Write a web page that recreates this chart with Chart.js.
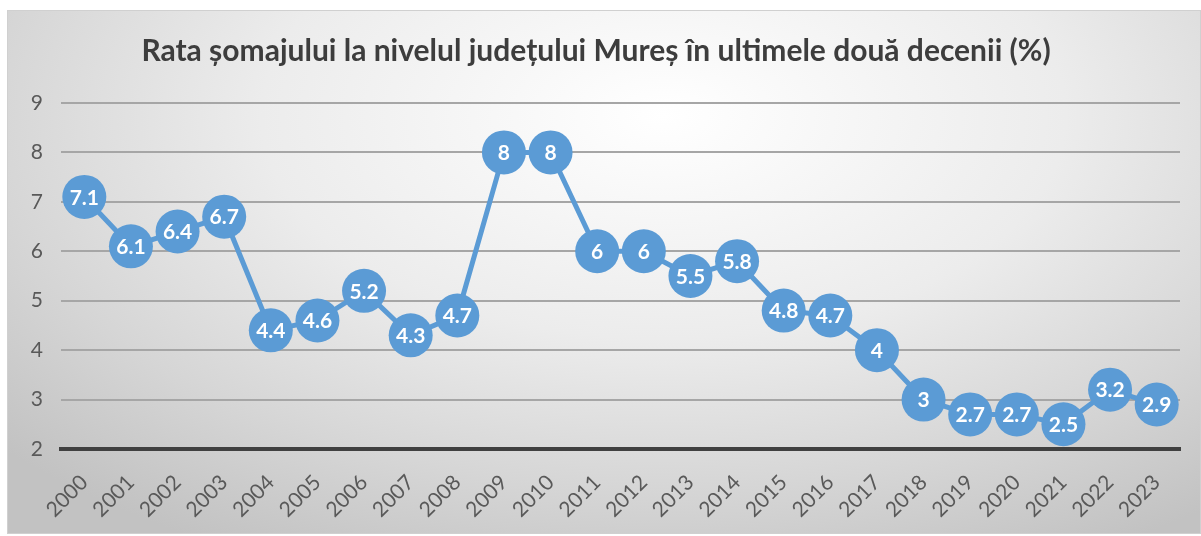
<!DOCTYPE html>
<html>
<head>
<meta charset="utf-8">
<script src="https://cdn.jsdelivr.net/npm/chart.js@4"></script>
<style>
  html, body { margin: 0; padding: 0; background: #fff; }
  #box {
    position: absolute; left: 7px; top: 10px; width: 1194px; height: 524px;
    box-sizing: border-box; border: 1px solid #d0d0d0;
    background: radial-gradient(ellipse 75% 95% at 55% 20%, #ffffff 0%, #ececec 45%, #d6d6d6 75%, #c2c2c2 100%);
  }
  canvas { display: block; }
</style>
</head>
<body>
<div id="box"><canvas id="chart" width="1194" height="524"></canvas></div>
<script>
const title = "Rata șomajului la nivelul județului Mureș în ultimele două decenii (%)";
const years = ["2000", "2001", "2002", "2003", "2004", "2005", "2006", "2007", "2008", "2009", "2010", "2011",
  "2012", "2013", "2014", "2015", "2016", "2017", "2018", "2019", "2020", "2021", "2022", "2023"];
const rates = [7.1, 6.1, 6.4, 6.7, 4.4, 4.6, 5.2, 4.3, 4.7, 8, 8, 6, 6, 5.5, 5.8, 4.8, 4.7, 4, 3, 2.7, 2.7, 2.5, 3.2, 2.9];
const yMin = 2;
const yMax = 9;

// white value labels in the middle of each marker
const valueLabels = {
  id: "valueLabels",
  afterDatasetsDraw(chart) {
    const ctx = chart.ctx;
    const meta = chart.getDatasetMeta(0);
    ctx.save();
    ctx.font = "bold 21px Lato";
    ctx.fillStyle = "#ffffff";
    ctx.textAlign = "center";
    ctx.textBaseline = "middle";
    meta.data.forEach((pt, i) => {
      ctx.fillText(String(rates[i]), pt.x, pt.y + 1);
    });
    ctx.restore();
  }
};

const chart = new Chart(document.getElementById("chart"), {
  type: "line",
  data: {
    labels: years,
    datasets: [{
      data: rates,
      borderColor: "#5b9bd5",
      backgroundColor: "#5b9bd5",
      borderWidth: 5,
      pointRadius: 22,
      pointHoverRadius: 22,
      pointBorderWidth: 0,
      pointBackgroundColor: "#5b9bd5",
      clip: false,
      tension: 0
    }]
  },
  options: {
    responsive: false,
    animation: false,
    events: [],
    layout: { padding: { left: 0, right: 18, top: 0, bottom: 0 } },
    plugins: {
      legend: { display: false },
      tooltip: { enabled: false },
      title: {
        display: true,
        text: title,
        color: "#3d3d3d",
        font: { family: "Lato", size: 30, weight: "bold" },
        padding: { top: 22, bottom: 34 }
      }
    },
    scales: {
      x: {
        offset: true,
        grid: { display: false, drawTicks: false },
        border: { display: true, color: "#404040", width: 4 },
        ticks: {
          color: "#595959",
          font: { family: "Lato", size: 21 },
          minRotation: 45,
          maxRotation: 45,
          padding: 21,
          autoSkip: false
        },
        afterFit(scale) { scale.height = 86; }
      },
      y: {
        min: yMin,
        max: yMax,
        grid: {
          drawTicks: false,
          color: (c) => c.tick && c.tick.value === yMin ? "rgba(0,0,0,0)" : "#a6a6a6",
          lineWidth: 2
        },
        border: { display: false },
        ticks: {
          stepSize: 1,
          color: "#595959",
          font: { family: "Lato", size: 21 },
          padding: 18
        },
        afterFit(scale) { scale.width = 53; }
      }
    }
  },
  plugins: [valueLabels]
});
</script>
</body>
</html>
